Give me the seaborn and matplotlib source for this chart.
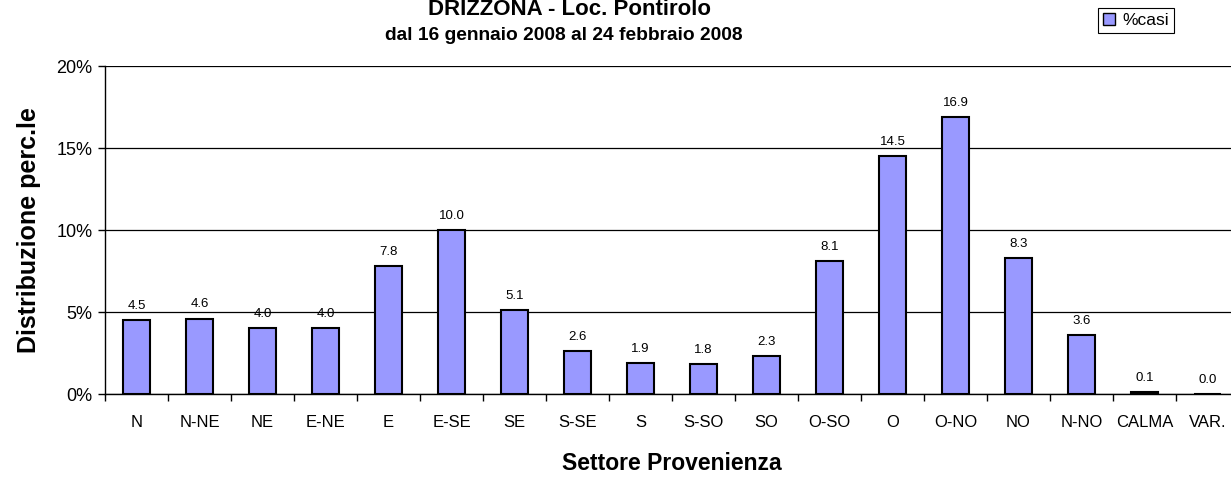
import matplotlib
matplotlib.use("Agg")
import matplotlib.pyplot as plt
import seaborn as sns
import pandas as pd
import numpy as np
from matplotlib.patches import Patch
from matplotlib.ticker import FixedLocator

# direzioni e percentuali
settori = ["N", "N-NE", "NE", "E-NE", "E", "E-SE", "SE", "S-SE", "S", "S-SO",
           "SO", "O-SO", "O", "O-NO", "NO", "N-NO", "CALMA", "VAR."]
perc_casi = [4.5, 4.6, 4.0, 4.0, 7.8, 10.0, 5.1, 2.6, 1.9, 1.8,
             2.3, 8.1, 14.5, 16.9, 8.3, 3.6, 0.1, 0.0]
y_ticks = [0, 5, 10, 15, 20]


def main():
    df = pd.DataFrame({"settore": settori, "casi": perc_casi})

    sns.set_style("white")
    plt.rcParams["font.family"] = ["Liberation Sans", "DejaVu Sans"]
    plt.rcParams["text.color"] = "black"
    plt.rcParams["axes.labelcolor"] = "black"
    plt.rcParams["xtick.color"] = "black"
    plt.rcParams["ytick.color"] = "black"

    fig = plt.figure(figsize=(12.31, 4.78), dpi=100)
    ax = fig.add_axes([0.0853, 0.1757, 0.9212, 0.6862])

    sns.barplot(data=df, x="settore", y="casi", color="#9999FF",
                saturation=1, width=0.43, edgecolor="black", linewidth=1.5,
                ax=ax, zorder=3)

    ax.set_ylim(0, 20)
    ax.set_xlim(-0.5, len(settori) - 0.5)
    ax.set_yticks(y_ticks)
    ax.set_yticklabels([f"{t}%" for t in y_ticks], fontsize=13)
    ax.yaxis.grid(True, color="black", linewidth=0.9, zorder=0)
    ax.set_axisbelow(True)

    ax.tick_params(axis="x", which="major", length=0, labelsize=12, pad=15)
    ax.xaxis.set_minor_locator(FixedLocator(np.arange(-0.5, len(settori), 1)))
    ax.tick_params(axis="x", which="minor", length=5, width=1, direction="out",
                   color="black", bottom=True)
    ax.tick_params(axis="y", length=5, width=1, direction="out", color="black",
                   left=True, pad=4)

    for s in ["top", "right"]:
        ax.spines[s].set_visible(False)
    for s in ["left", "bottom"]:
        ax.spines[s].set_color("black")
        ax.spines[s].set_linewidth(1)

    # etichette dei valori sopra le barre
    for i, v in enumerate(perc_casi):
        ax.text(i, v + 0.5, f"{v:.1f}", ha="center", va="bottom", fontsize=9.5)

    ax.set_xlabel("Settore Provenienza", fontsize=16.5, fontweight="bold", labelpad=16)
    ax.set_ylabel("Distribuzione perc.le", fontsize=18, fontweight="bold", labelpad=11)

    fig.text(0.463, 0.981, "DRIZZONA - Loc. Pontirolo", ha="center", va="center",
             fontsize=16, fontweight="bold")
    fig.text(0.458, 0.926, "dal 16 gennaio 2008 al 24 febbraio 2008", ha="center",
             va="center", fontsize=13.8, fontweight="bold")

    handles = [Patch(facecolor="#9999FF", edgecolor="black", linewidth=1)]
    leg = fig.legend(handles, ["%casi"], loc="upper left", bbox_to_anchor=(0.892, 0.984),
                     borderaxespad=0, frameon=True, fancybox=False, edgecolor="black",
                     fontsize=12.5, handlelength=0.7, handleheight=0.7,
                     handletextpad=0.4, borderpad=0.3, framealpha=1)
    leg.get_frame().set_linewidth(0.8)

    fig.savefig("out.png", dpi=100)
    plt.close(fig)


main()
